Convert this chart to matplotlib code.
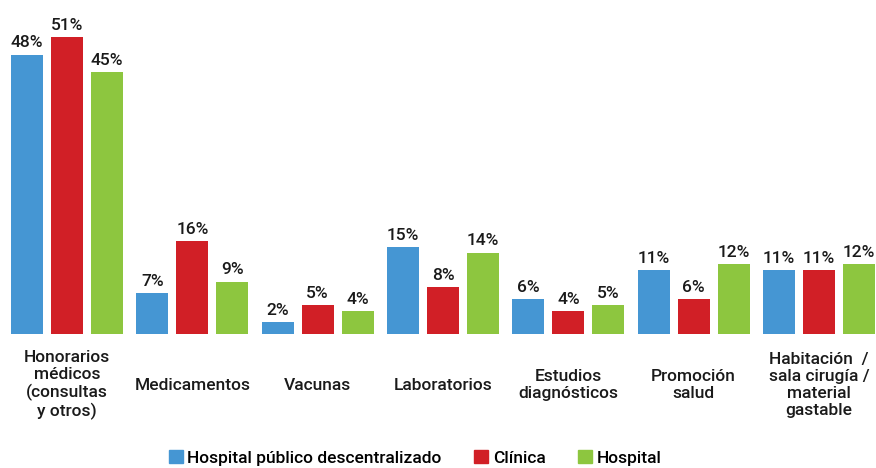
import numpy as np
import matplotlib.pyplot as plt
from matplotlib.patches import Patch
from matplotlib.transforms import blended_transform_factory

plt.rcParams['font.family'] = ['Roboto', 'DejaVu Sans']
plt.rcParams['font.weight'] = 'medium'

categorias = ['Honorarios\nmédicos\n(consultas\ny otros)', 'Medicamentos', 'Vacunas',
              'Laboratorios', 'Estudios\ndiagnósticos', 'Promoción\nsalud',
              'Habitación  /\nsala cirugía /\nmaterial\ngastable']
hosp_publico = [48, 7, 2, 15, 6, 11, 11]
clinica = [51, 16, 5, 8, 4, 6, 11]
hospital = [45, 9, 4, 14, 5, 12, 12]
series = ['Hospital público descentralizado', 'Clínica', 'Hospital']
colores = ['#4596D3', '#D11F26', '#8DC63F']

fig = plt.figure(figsize=(8.76, 4.68), dpi=100)
ax = fig.add_axes([0, 0.2863, 1, 0.7137])

x = np.arange(len(categorias))
w = 0.255
off = 0.319
for i, (vals, c) in enumerate(zip([hosp_publico, clinica, hospital], colores)):
    bars = ax.bar(x + (i - 1) * off, vals, width=w, color=c)
    for b, v in zip(bars, vals):
        ax.annotate(f'{v}%', (b.get_x() + b.get_width() / 2, b.get_height()),
                    xytext=(0, 3), textcoords='offset points',
                    ha='center', va='bottom', fontsize=12.5, color='#1a1a1a')

ax.set_xlim(-67 / 125.33, (876 - 67) / 125.33)
ax.set_ylim(0, 334 / 5.82)
ax.axis('off')

trans = blended_transform_factory(ax.transData, fig.transFigure)
for xi, cat in zip(x, categorias):
    ax.text(xi, 1 - 385 / 468, cat, transform=trans, ha='center', va='center',
            multialignment='center', fontsize=12.5, linespacing=1.17, color='#1a1a1a')

handles = [Patch(color=c, label=s) for c, s in zip(colores, series)]
fig.legend(handles=handles, loc='center', bbox_to_anchor=(0.474, 1 - 458 / 468), ncol=3,
           frameon=False, fontsize=12.5, handlelength=0.8, handleheight=0.8,
           handletextpad=0.25, columnspacing=1.9, borderpad=0)

fig.savefig('out.png', dpi=100)
